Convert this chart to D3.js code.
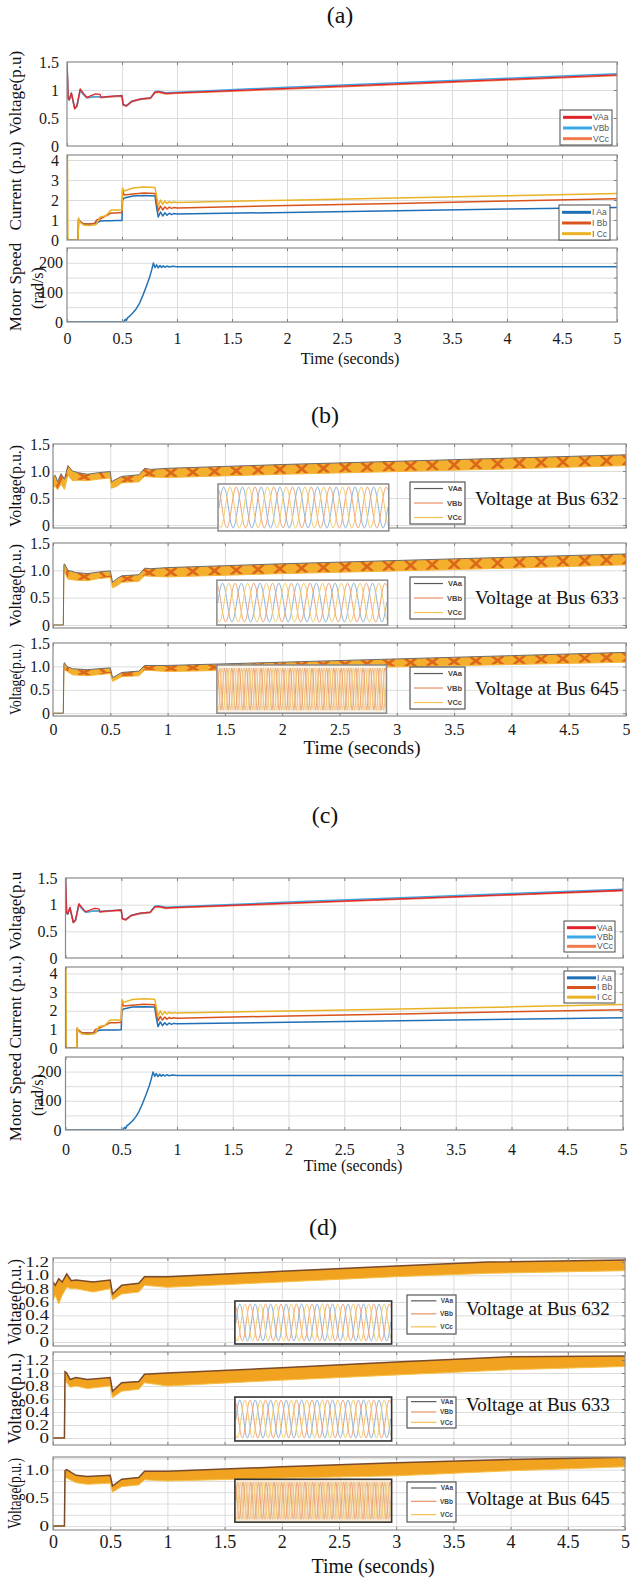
<!DOCTYPE html>
<html>
<head>
<meta charset="utf-8" />
<style>
body { margin:0; background:#fff; }
.grid line { stroke:#dcdcdc; }
.grid path, .tk path { display:none; }
.tk line { stroke:#808080; }
</style>
</head>
<body>
<svg id="fig" width="630" height="1578" xmlns="http://www.w3.org/2000/svg"></svg>
<script src="https://cdnjs.cloudflare.com/ajax/libs/d3/7.8.5/d3.min.js"></script>
<script>
var serif = "Liberation Serif, Times New Roman, serif";
var sans = "Liberation Sans, Arial, sans-serif";

// ---- data ----
var xTicks = [0, 0.5, 1, 1.5, 2, 2.5, 3, 3.5, 4, 4.5, 5];

// (a)/(c) terminal voltage, p.u.
var vTime = [0, 0.005, 0.01, 0.02, 0.04, 0.07, 0.09, 0.12, 0.15, 0.18, 0.22, 0.26, 0.3, 0.31, 0.36, 0.42, 0.5, 0.51, 0.54, 0.59, 0.67, 0.76, 0.8, 0.83, 0.9, 1.0, 2.0, 3.0, 4.0, 5.0];
var vAa = [1.5, 1.2, 0.85, 0.83, 0.95, 0.67, 0.72, 1.02, 0.94, 0.87, 0.9, 0.93, 0.92, 0.87, 0.88, 0.89, 0.9, 0.74, 0.72, 0.8, 0.84, 0.86, 0.96, 0.97, 0.94, 0.95, 1.03, 1.11, 1.19, 1.27];
var vBb = [1.5, 1.2, 0.85, 0.82, 0.94, 0.67, 0.71, 1.0, 0.92, 0.86, 0.87, 0.88, 0.88, 0.87, 0.88, 0.89, 0.9, 0.74, 0.72, 0.8, 0.84, 0.86, 0.97, 0.98, 0.95, 0.96, 1.05, 1.13, 1.21, 1.29];
var vCc = [1.5, 1.2, 0.84, 0.82, 0.93, 0.66, 0.7, 0.99, 0.92, 0.86, 0.87, 0.88, 0.88, 0.86, 0.87, 0.88, 0.89, 0.73, 0.71, 0.79, 0.83, 0.85, 0.95, 0.96, 0.93, 0.94, 1.02, 1.1, 1.18, 1.26];

// (a)/(c) line currents, p.u.
var iTime = [0, 0.004, 0.008, 0.1, 0.105, 0.115, 0.15, 0.2, 0.25, 0.27, 0.3, 0.35, 0.4, 0.45, 0.5, 0.505, 0.52, 0.6, 0.7, 0.8, 0.815, 0.83, 0.85, 0.87, 0.89, 0.91, 0.93, 0.95, 0.97, 1.0, 2.0, 3.0, 4.0, 5.0];
var iAa = [0, 0, 0, 0, 1.0, 0.95, 0.8, 0.8, 0.82, 0.85, 0.95, 0.96, 0.96, 0.97, 0.98, 2.0, 2.1, 2.2, 2.22, 2.2, 1.6, 1.15, 1.4, 1.2, 1.36, 1.24, 1.34, 1.27, 1.32, 1.3, 1.38, 1.46, 1.55, 1.63];
var iBb = [0, 0, 0, 0, 1.05, 0.95, 0.8, 0.8, 0.82, 1.0, 1.05, 1.2, 1.35, 1.35, 1.38, 2.5, 2.25, 2.3, 2.35, 2.32, 1.9, 1.45, 1.7, 1.5, 1.66, 1.55, 1.64, 1.58, 1.62, 1.6, 1.72, 1.83, 1.95, 2.06];
var iCc = [4.3, 4.3, 0, 0, 1.1, 0.9, 0.75, 0.72, 0.75, 0.8, 1.15, 1.2, 1.5, 1.5, 1.5, 2.6, 2.45, 2.6, 2.65, 2.62, 2.2, 1.7, 2.0, 1.78, 1.95, 1.83, 1.92, 1.86, 1.9, 1.88, 1.99, 2.1, 2.21, 2.33];

// (a)/(c) motor speed, rad/s
var sTime = [0, 0.5, 0.52, 0.53, 0.54, 0.55, 0.57, 0.6, 0.63, 0.66, 0.69, 0.72, 0.75, 0.77, 0.785, 0.8, 0.815, 0.83, 0.845, 0.86, 0.875, 0.89, 0.91, 0.93, 0.96, 1.0, 5.0];
var speed = [0, 0, 3, 9, 5, 14, 20, 31, 45, 64, 90, 119, 150, 176, 199, 184, 193, 183, 191, 184, 190, 185, 189, 186, 188, 187, 187];

// (b) bus voltage envelopes (upper / lower edge of the three-phase band)
var b632T = [0, 0.005, 0.02, 0.04, 0.07, 0.1, 0.13, 0.17, 0.22, 0.3, 0.4, 0.5, 0.51, 0.56, 0.6, 0.75, 0.8, 0.85, 1, 2, 3, 4, 5];
var b632Hi = [0, 0.9, 0.92, 0.8, 0.95, 0.85, 1.1, 1.0, 0.97, 0.94, 0.97, 0.99, 0.8, 0.86, 0.9, 0.93, 1.05, 1.03, 1.05, 1.12, 1.18, 1.24, 1.3];
var b632Lo = [0, 0.7, 0.72, 0.65, 0.76, 0.66, 0.92, 0.82, 0.83, 0.82, 0.85, 0.87, 0.68, 0.72, 0.78, 0.8, 0.9, 0.89, 0.88, 0.94, 0.99, 1.04, 1.1];
var b633T = [0, 0.09, 0.095, 0.1, 0.13, 0.2, 0.3, 0.4, 0.5, 0.52, 0.56, 0.6, 0.75, 0.8, 0.85, 1, 2, 3, 4, 5];
var b633Hi = [0, 0, 1.1, 1.12, 1.0, 0.96, 0.94, 0.97, 0.99, 0.78, 0.85, 0.9, 0.92, 1.04, 1.03, 1.05, 1.12, 1.18, 1.24, 1.3];
var b633Lo = [0, 0, 0.95, 0.97, 0.84, 0.82, 0.81, 0.85, 0.87, 0.68, 0.72, 0.78, 0.8, 0.9, 0.89, 0.88, 0.94, 0.99, 1.04, 1.1];
var b645T = [0, 0.09, 0.095, 0.1, 0.12, 0.17, 0.3, 0.5, 0.52, 0.6, 0.75, 0.8, 1, 2, 3, 4, 5];
var b645Hi = [0, 0, 1.05, 1.08, 1.0, 0.95, 0.93, 0.97, 0.76, 0.87, 0.9, 1.02, 1.02, 1.09, 1.16, 1.23, 1.3];
var b645Lo = [0, 0, 0.9, 0.92, 0.9, 0.82, 0.8, 0.85, 0.68, 0.78, 0.8, 0.92, 0.89, 0.94, 0.99, 1.04, 1.09];

// (d) bus voltage envelopes
var d632T = [0, 0.02, 0.05, 0.08, 0.12, 0.16, 0.2, 0.35, 0.5, 0.52, 0.6, 0.75, 0.8, 1, 2, 3, 3.8, 5];
var d632Hi = [0.9, 0.85, 0.95, 0.9, 1.02, 0.92, 0.93, 0.9, 0.93, 0.72, 0.85, 0.88, 0.98, 0.98, 1.06, 1.14, 1.2, 1.23];
var d632Lo = [0.62, 0.7, 0.57, 0.7, 0.82, 0.8, 0.8, 0.75, 0.8, 0.63, 0.72, 0.75, 0.85, 0.82, 0.9, 0.98, 1.03, 1.07];
var d633T = [0, 0.1, 0.105, 0.12, 0.15, 0.2, 0.3, 0.5, 0.52, 0.6, 0.75, 0.8, 1, 2, 3, 4, 5];
var d633Hi = [0, 0, 1.02, 1.0, 0.9, 0.93, 0.9, 0.93, 0.72, 0.85, 0.87, 0.98, 1.0, 1.08, 1.17, 1.25, 1.26];
var d633Lo = [0, 0, 0.9, 0.85, 0.78, 0.8, 0.76, 0.8, 0.62, 0.72, 0.75, 0.85, 0.8, 0.89, 0.97, 1.05, 1.1];
var d645T = [0, 0.1, 0.105, 0.12, 0.2, 0.3, 0.5, 0.52, 0.6, 0.75, 0.8, 1, 2, 3, 4, 5];
var d645Hi = [0, 0, 0.98, 1.0, 0.9, 0.88, 0.9, 0.71, 0.83, 0.86, 0.97, 0.97, 1.05, 1.12, 1.18, 1.22];
var d645Lo = [0, 0, 0.85, 0.85, 0.77, 0.74, 0.76, 0.6, 0.7, 0.73, 0.82, 0.8, 0.85, 0.89, 0.98, 1.05];

// one period of the zoomed waveform in the insets (normalised), and cycles shown
var wavePeriod = [0.5, 0.75, 0.93, 1, 0.93, 0.75, 0.5, 0.25, 0.07, 0, 0.07, 0.25];
var cyclesB = 9, cyclesBDense = 23, cyclesD = 10, cyclesDDense = 20;

var vNames = ["VAa", "VBb", "VCc"];
var iNames = ["I Aa", "I Bb", "I Cc"];

// ---- drawing ----
var svg = d3.select("#fig");
svg.append("rect").attr("width", 630).attr("height", 1578).attr("fill", "#fff");
var uid = 0;

var fmtPlain = function(d) { return String(d); };
var fmtOne = function(d) { return d === 0 ? "0" : d.toFixed(1); };

function plotBox(o) {
	var x = d3.scaleLinear().domain([0, 5]).range([o.left, o.right]);
	var y = d3.scaleLinear().domain(o.yDom).range([o.bottom, o.top]);
	var w = o.right - o.left, h = o.bottom - o.top;
	var g = svg.append("g");
	g.append("rect").attr("x", o.left).attr("y", o.top).attr("width", w).attr("height", h).attr("fill", "#fff");
	g.append("g").attr("class", "grid").attr("transform", "translate(0," + o.bottom + ")")
		.call(d3.axisBottom(x).tickValues(xTicks.slice(1, -1)).tickSize(-h).tickFormat(""));
	g.append("g").attr("class", "grid").attr("transform", "translate(" + o.left + ",0)")
		.call(d3.axisLeft(y).tickValues(o.yGrid).tickSize(-w).tickFormat(""));
	var ya = g.append("g").attr("transform", "translate(" + o.left + ",0)")
		.call(d3.axisLeft(y).tickValues(o.yTicks).tickSize(0).tickPadding(o.pad).tickFormat(o.fmt));
	ya.attr("font-family", serif);
	ya.select(".domain").remove();
	ya.selectAll("text").attr("font-size", o.fs).attr("font-family", serif).attr("fill", "#1a1a1a");
	if (o.squash) ya.selectAll("text").attr("transform", "scale(1," + o.squash + ")");
	var id = "clip" + (uid++);
	svg.append("clipPath").attr("id", id).append("rect")
		.attr("x", o.left).attr("y", o.top).attr("width", w).attr("height", h);
	var plot = svg.append("g").attr("clip-path", "url(#" + id + ")");
	return { x: x, y: y, plot: plot, o: o };
}

function frame(p, col) {
	var o = p.o;
	var g = svg.append("g");
	g.append("g").attr("class", "tk").attr("transform", "translate(0," + o.top + ")").call(d3.axisBottom(p.x).tickValues(xTicks).tickSize(3).tickFormat(""));
	g.append("g").attr("class", "tk").attr("transform", "translate(0," + o.bottom + ")").call(d3.axisTop(p.x).tickValues(xTicks).tickSize(3).tickFormat(""));
	g.append("g").attr("class", "tk").attr("transform", "translate(" + o.right + ",0)").call(d3.axisLeft(p.y).tickValues(o.yGrid).tickSize(3).tickFormat(""));
	g.append("rect").attr("x", o.left).attr("y", o.top).attr("width", o.right - o.left).attr("height", o.bottom - o.top)
		.attr("fill", "none").attr("stroke", col || "#8a8a8a").attr("stroke-width", 1.2);
}

function xLabels(p, pad, fs) {
	var xa = svg.append("g").attr("transform", "translate(0," + p.o.bottom + ")")
		.call(d3.axisBottom(p.x).tickValues(xTicks).tickSize(0).tickPadding(pad).tickFormat(fmtPlain));
	xa.attr("font-family", serif);
	xa.select(".domain").remove();
	xa.selectAll("text").attr("font-size", fs).attr("font-family", serif).attr("fill", "#1a1a1a");
}

function trace(p, T, V, col, w) {
	var line = d3.line().x(function(d, i) { return p.x(T[i]); }).y(function(d) { return p.y(d); });
	p.plot.append("path").attr("d", line(V)).attr("fill", "none").attr("stroke", col)
		.attr("stroke-width", w || 1.5).attr("stroke-linejoin", "round");
}

function band(p, T, hi, lo, st) {
	var area = d3.area().x(function(d, i) { return p.x(T[i]); })
		.y0(function(d, i) { return p.y(lo[i]); }).y1(function(d, i) { return p.y(hi[i]); });
	var id = "band" + (uid++);
	svg.append("clipPath").attr("id", id).append("path").attr("d", area(T));
	p.plot.append("path").attr("d", area(T)).attr("fill", st.fill);
	if (st.cross) {
		// X-shaped crossings of the three phases along the band
		var hiS = d3.scaleLinear().domain(T).range(hi), loS = d3.scaleLinear().domain(T).range(lo);
		var cg = p.plot.append("g").attr("clip-path", "url(#" + id + ")");
		var dd = 0.05;
		d3.range(0.08, 5.05, 0.19).forEach(function(c) {
			var a = c - dd, b = c + dd;
			cg.append("path")
				.attr("d", "M" + p.x(a) + "," + p.y(hiS(a)) + "L" + p.x(b) + "," + p.y(loS(b)) +
					"M" + p.x(a) + "," + p.y(loS(a)) + "L" + p.x(b) + "," + p.y(hiS(b)))
				.attr("stroke", st.cross).attr("stroke-width", 2.6).attr("fill", "none");
		});
	}
	var edge = d3.line().x(function(d, i) { return p.x(T[i]); }).y(function(d) { return p.y(d); });
	p.plot.append("path").attr("d", edge(lo)).attr("fill", "none").attr("stroke", st.low).attr("stroke-width", 1);
	p.plot.append("path").attr("d", edge(hi)).attr("fill", "none").attr("stroke", st.edge).attr("stroke-width", st.edgeW || 1);
}

function inset(p, box, cycles, colors, bg, border, bw) {
	var x0 = p.x(box[0]), x1 = p.x(box[1]), y0 = p.y(box[3]), y1 = p.y(box[2]);
	var g = svg.append("g");
	g.append("rect").attr("x", x0).attr("y", y0).attr("width", x1 - x0).attr("height", y1 - y0).attr("fill", bg);
	g.append("line").attr("x1", x0).attr("x2", x1).attr("y1", (y0 + y1) / 2).attr("y2", (y0 + y1) / 2).attr("stroke", "#e4e4e4");
	var xi = d3.scaleLinear().domain([0, cycles]).range([x0 + 1, x1 - 1]);
	var yi = d3.scaleLinear().domain([0, 1]).range([y1 - 3, y0 + 3]);
	var n = wavePeriod.length;
	colors.forEach(function(c, ph) {
		var pts = d3.range(cycles * n + 1).map(function(k) { return [k / n, wavePeriod[(k + ph * 4) % n]]; });
		g.append("path").attr("d", d3.line().x(function(d) { return xi(d[0]); }).y(function(d) { return yi(d[1]); }).curve(d3.curveCatmullRom)(pts))
			.attr("fill", "none").attr("stroke", c).attr("stroke-width", 1);
	});
	g.append("rect").attr("x", x0).attr("y", y0).attr("width", x1 - x0).attr("height", y1 - y0)
		.attr("fill", "none").attr("stroke", border).attr("stroke-width", bw);
}

function legendThick(x0, y0, w, h, names, cols) {
	var g = svg.append("g");
	g.append("rect").attr("x", x0).attr("y", y0).attr("width", w).attr("height", h).attr("fill", "#fff").attr("stroke", "#4a4a4a").attr("stroke-width", 1);
	var gap = (h - 3) / 3;
	names.forEach(function(nm, i) {
		var yy = y0 + 2 + gap * (i + 0.5);
		g.append("line").attr("x1", x0 + 3).attr("x2", x0 + 32).attr("y1", yy).attr("y2", yy).attr("stroke", cols[i]).attr("stroke-width", 3);
		g.append("text").attr("x", x0 + 33).attr("y", yy).attr("dy", "0.35em").attr("font-family", sans).attr("font-size", 8.5).attr("fill", "#555").text(nm);
	});
}

function legendThin(x0, y0, w, h, names, cols, fs, gap) {
	var g = svg.append("g");
	g.append("rect").attr("x", x0).attr("y", y0).attr("width", w).attr("height", h).attr("fill", "#fff").attr("stroke", "#555").attr("stroke-width", 1.2);
	names.forEach(function(nm, i) {
		var yy = y0 + gap * 0.45 + i * gap;
		g.append("line").attr("x1", x0 + 4).attr("x2", x0 + w * 0.6).attr("y1", yy).attr("y2", yy).attr("stroke", cols[i]).attr("stroke-width", 1.2);
		g.append("text").attr("x", x0 + w - 3).attr("y", yy).attr("dy", "0.35em").attr("text-anchor", "end").attr("font-family", sans)
			.attr("font-weight", "bold").attr("font-size", fs).attr("fill", "#444").text(nm);
	});
}

function txt(x, y, s, fs, anchor) {
	return svg.append("text").attr("x", x).attr("y", y).attr("dy", "0.35em").attr("text-anchor", anchor || "middle")
		.attr("font-family", serif).attr("font-size", fs).attr("fill", "#111").text(s);
}

function vlabel(x, y, s, fs, len) {
	var t = svg.append("text").attr("transform", "translate(" + x + "," + y + ") rotate(-90)").attr("dy", "0.35em")
		.attr("text-anchor", "middle").attr("font-family", serif).attr("font-size", fs).attr("fill", "#111").text(s);
	if (len) t.attr("textLength", len).attr("lengthAdjust", "spacingAndGlyphs");
}

var vCols = ["#e0262b", "#3da8e6", "#f07a4c"];
var iCols = ["#1f6fb5", "#d9541c", "#e9b325"];
var busCols = ["#5a5a5a", "#e8926a", "#f2c34e"];
var waveCols = ["#8db4d8", "#f0a478", "#f2cc6c"];
var denseCols = ["#e9b98d", "#f0a070", "#f3cf7a"];

// ================= panel (a) and (c): same layout, different placement =================
function motorPanel(L, R, tops, bots, curTop, fs) {
	var p1 = plotBox({ left: L, right: R, top: tops[0], bottom: bots[0], yDom: [0, 1.5], yTicks: [0, 0.5, 1, 1.5], yGrid: [0.5, 1], fmt: fmtPlain, fs: fs, pad: 8 });
	trace(p1, vTime, vCc, vCols[2]);
	trace(p1, vTime, vBb, vCols[1]);
	trace(p1, vTime, vAa, vCols[0], 1.3);
	frame(p1);
	var p2 = plotBox({ left: L, right: R, top: tops[1], bottom: bots[1], yDom: [0, curTop], yTicks: [0, 1, 2, 3, 4], yGrid: [1, 2, 3, 4], fmt: fmtPlain, fs: fs, pad: 8 });
	trace(p2, iTime, iAa, iCols[0]);
	trace(p2, iTime, iBb, iCols[1]);
	trace(p2, iTime, iCc, iCols[2]);
	frame(p2);
	var p3 = plotBox({ left: L, right: R, top: tops[2], bottom: bots[2], yDom: [0, 250], yTicks: [0, 100, 200], yGrid: [50, 100, 150, 200], fmt: fmtPlain, fs: fs, pad: 4 });
	trace(p3, sTime, speed, "#2272b6");
	frame(p3);
	return p3;
}

// ================= panel (a) =================
txt(340, 15, "(a)", 24);
var a3 = motorPanel(67, 617, [62, 155, 248], [146, 240, 322], 4.25, 16);
xLabels(a3, 11, 16);
vlabel(15, 93, "Voltage(p.u)", 17);
vlabel(15, 186, "Current (p.u)", 17);
vlabel(15, 287, "Motor Speed", 17);
vlabel(37, 288, "(rad/s)", 16);
legendThick(560, 110, 52, 35, vNames, vCols);
legendThick(559, 205, 51, 35, iNames, iCols);
txt(350, 358, "Time (seconds)", 16);

// ================= panel (b) =================
txt(325, 415, "(b)", 24);
var bandB = { fill: "#f4b02c", cross: "#dc661c", low: "#f2b53a", edge: "#6c6c6c" };
var bY = [[444, 528], [543, 628], [643, 716]];
var bData = [[b632T, b632Hi, b632Lo], [b633T, b633Hi, b633Lo], [b645T, b645Hi, b645Lo]];
var bInsets = [[1.44, 2.93, -0.11, 0.76], [1.43, 2.92, 0.0, 0.82], [1.43, 2.91, 0.0, 1.03]];
var bLeg = [482, 577, 667];
var bBus = [[498, "632"], [597, "633"], [688, "645"]];
bY.forEach(function(r, k) {
	var dom = k === 2 ? [-0.06, 1.5] : [-0.055, 1.5];
	var p = plotBox({ left: 53, right: 626, top: r[0], bottom: r[1], yDom: dom, yTicks: [0, 0.5, 1, 1.5], yGrid: [0, 0.5, 1], fmt: fmtOne, fs: 16, pad: 3 });
	band(p, bData[k][0], bData[k][1], bData[k][2], bandB);
	frame(p);
	if (k === 2) inset(p, bInsets[k], cyclesBDense, denseCols, "#fcf3e8", "#8a8a8a", 1.5);
	else inset(p, bInsets[k], cyclesB, waveCols, "#fff", "#8a8a8a", 1.5);
	legendThin(410, bLeg[k], 55, 42, vNames, busCols, 7.5, 14.5);
	txt(475, bBus[k][0], "Voltage at Bus " + bBus[k][1], 19, "start");
	vlabel(15, (r[0] + r[1]) / 2, "Voltage(p.u.)", 16, r[1] - r[0] - 2);
	if (k === 2) xLabels(p, 8, 16);
});
txt(362, 747, "Time (seconds)", 19);

// ================= panel (c) =================
txt(325, 815, "(c)", 24);
var c3 = motorPanel(65.5, 623, [878, 967, 1057], [958, 1048, 1130], 4.35, 16);
xLabels(c3, 14, 16);
vlabel(15, 911, "Voltage(p.u", 17);
vlabel(15, 1002, "Current (p.u.)", 17);
vlabel(15, 1097, "Motor Speed", 17);
vlabel(37, 1095, "(rad/s)", 16);
legendThick(564, 921, 51, 31, vNames, vCols);
legendThick(564, 971, 51, 32, iNames, iCols);
txt(353, 1165, "Time (seconds)", 16);

// ================= panel (d) =================
txt(323, 1227, "(d)", 24);
var bandD = { fill: "#f1a31f", cross: null, low: "#f6c04a", edge: "#7a4a2c", edgeW: 1.5 };
var dY = [[1258, 1346], [1352, 1445], [1457, 1530]];
var dDom = [[-0.06, 1.26], [-0.108, 1.323], [-0.069, 1.224]];
var dData = [[d632T, d632Hi, d632Lo], [d633T, d633Hi, d633Lo], [d645T, d645Hi, d645Lo]];
var dInsets = [[1.59, 2.96, -0.03, 0.615], [1.59, 2.96, -0.046, 0.63], [1.59, 2.96, 0.07, 0.83]];
var dLeg = [[1295, 39], [1397, 31], [1482, 40]];
var dBus = [[1308, "632"], [1404, "633"], [1498, "645"]];
dY.forEach(function(r, k) {
	var ticks = k === 2 ? [0, 0.5, 1.0] : [0, 0.2, 0.4, 0.6, 0.8, 1.0, 1.2];
	var p = plotBox({ left: 53, right: 625, top: r[0], bottom: r[1], yDom: dDom[k], yTicks: ticks, yGrid: [0, 0.2, 0.4, 0.6, 0.8, 1.0, 1.2], fmt: fmtOne, fs: 19, pad: 4, squash: 0.72 });
	band(p, dData[k][0], dData[k][1], dData[k][2], bandD);
	frame(p, "#909090");
	if (k === 2) inset(p, dInsets[k], cyclesDDense, denseCols, "#f7e8d4", "#333", 1.6);
	else inset(p, dInsets[k], cyclesD, waveCols, "#fff", "#333", 1.6);
	legendThin(407, dLeg[k][0], 49, dLeg[k][1], vNames, busCols, 6.5, dLeg[k][1] / 3);
	txt(466, dBus[k][0], "Voltage at Bus " + dBus[k][1], 19, "start");
	vlabel(14, (r[0] + r[1]) / 2, "Voltage(p.u.)", 19, r[1] - r[0] - 2);
	if (k === 2) xLabels(p, 5, 18);
});
txt(373, 1566, "Time (seconds)", 20);
</script>
</body>
</html>
